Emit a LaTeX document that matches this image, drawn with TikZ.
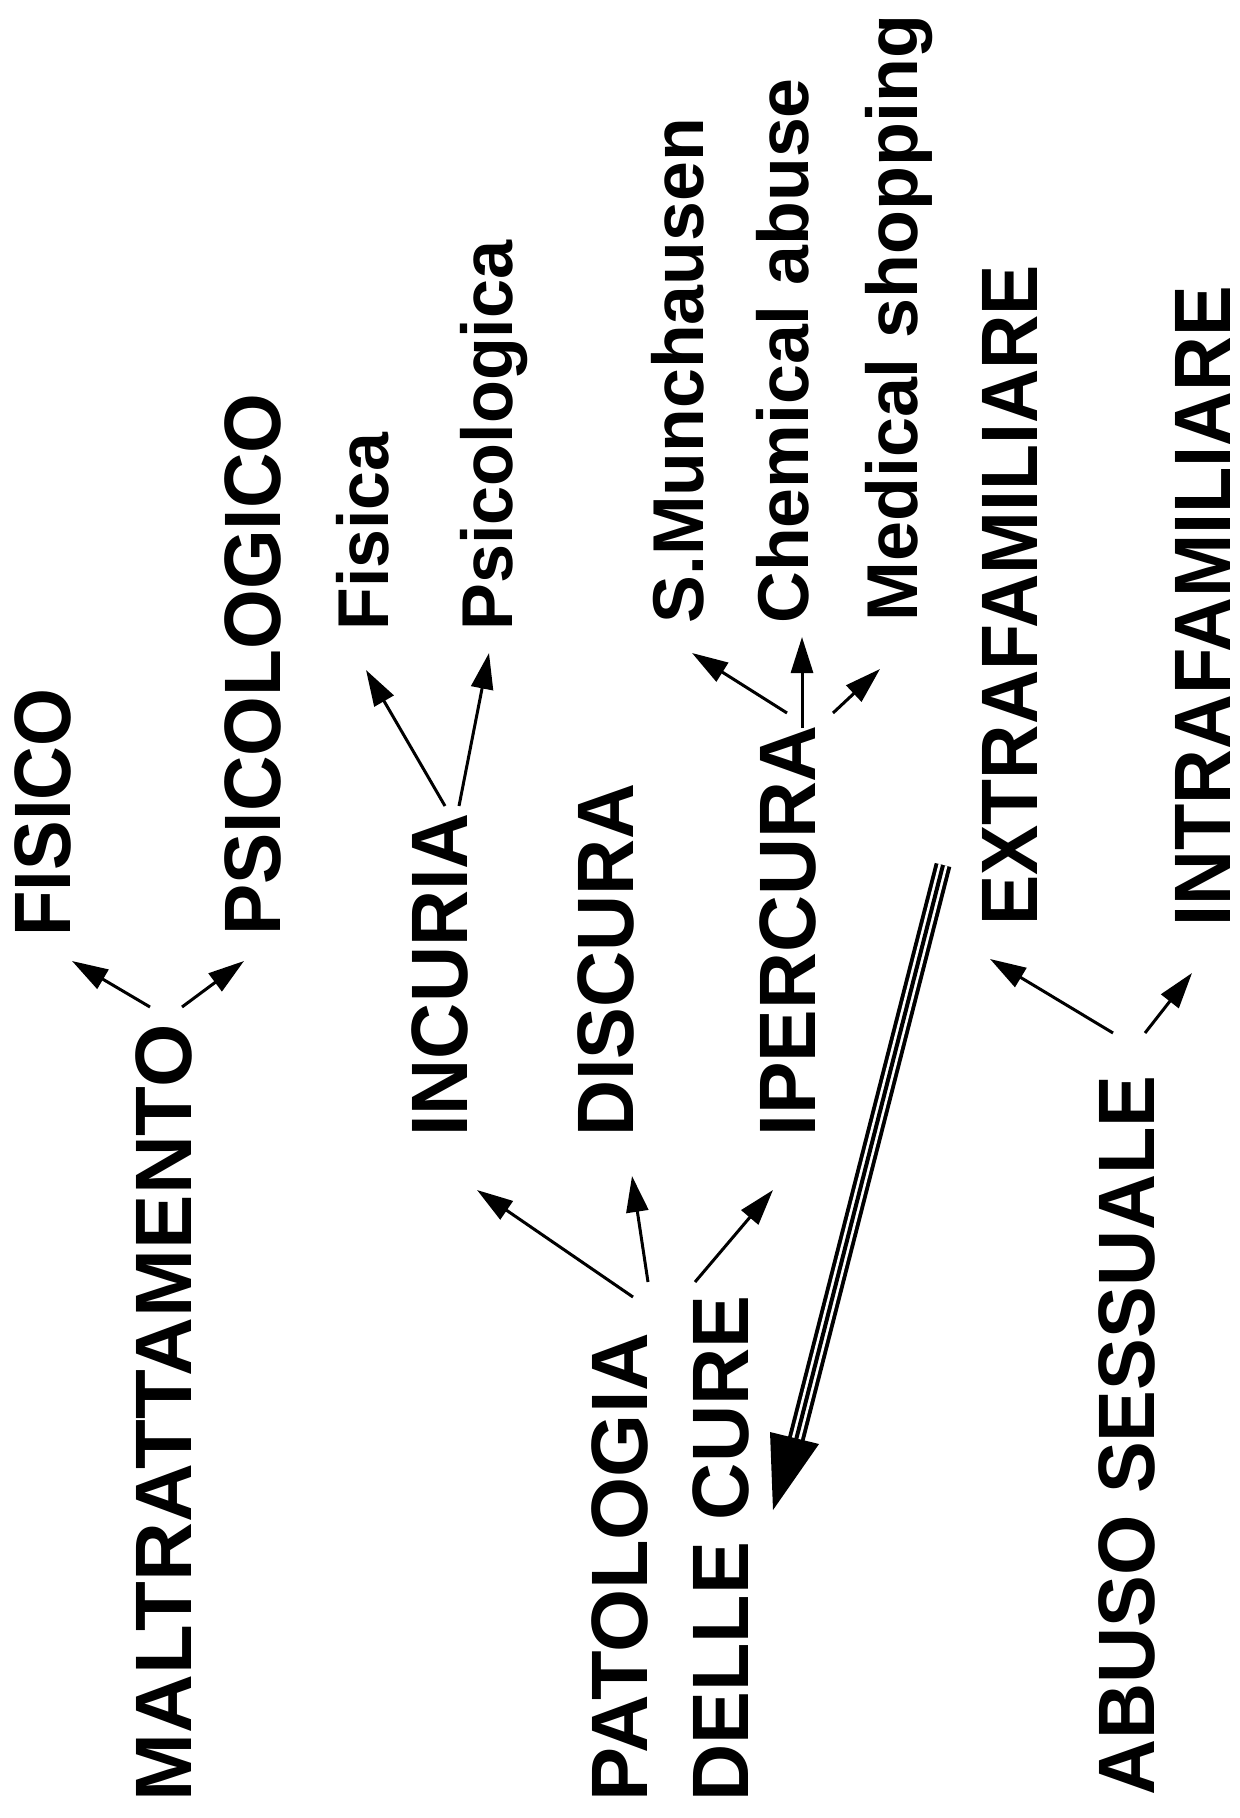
\documentclass[tikz,border=0pt]{standalone}
\usepackage{graphicx}
\usepackage{fontspec}
\setmainfont{Liberation Sans}
\usetikzlibrary{arrows.meta,calc}
\newcommand\hstretch[2]{\scalebox{#1}[1]{#2}}
\tikzset{
  big/.style={font=\bfseries\fontsize{40}{48}\selectfont, inner sep=0pt, anchor=base west, rotate=90},
  small/.style={font=\bfseries\fontsize{36}{43}\selectfont, inner sep=0pt, anchor=base west, rotate=90},
  arr/.style={line width=1.5pt, -{Triangle[length=18pt,width=11pt]}},
}
\begin{document}
\begin{tikzpicture}[x=0.5pt,y=-0.5pt]
\useasboundingbox[fill=white] (0,0) rectangle (1240,1818);
% labels
\node[big] (malt) at (191,1802) {\hstretch{1.019}{MALTRATTAMENTO}};
\node[big] (fisico) at (70,937) {\hstretch{0.93}{FISICO}};
\node[big] (psico) at (280,936) {\hstretch{0.96}{PSICOLOGICO}};
\node[small] (fisica) at (388,631) {\hstretch{0.97}{Fisica}};
\node[small] (psica) at (512,631) {\hstretch{0.975}{Psicologica}};
\node[big] (incuria) at (467,1137) {\hstretch{0.97}{INCURIA}};
\node[big] (discura) at (633,1137) {\hstretch{0.97}{DISCURA}};
\node[big] (ipercura) at (815,1137) {\hstretch{0.985}{IPERCURA}};
\node[small] (munch) at (703,624) {\hstretch{0.995}{S.Munchausen}};
\node[small] (chem) at (808,624) {\hstretch{0.995}{Chemical abuse}};
\node[small] (med) at (917,622) {\hstretch{0.998}{Medical shopping}};
\node[big] (pat) at (647,1802) {\hstretch{1.014}{PATOLOGIA}};
\node[big] (delle) at (748,1802) {\hstretch{0.99}{DELLE CURE}};
\node[big] (extra) at (1037,926) {\hstretch{0.941}{EXTRAFAMILIARE}};
\node[big, text depth=0pt] (intra) at (1230,927) {\hstretch{0.948}{INTRAFAMILIARE}};
\node[big] (abuso) at (1154,1796) {\hstretch{0.97}{ABUSO SESSUALE}};
% connector end points
\coordinate (m1) at (150,1007); \coordinate (m1t) at (72,961);
\coordinate (m2) at (182,1007); \coordinate (m2t) at (244,961);
\coordinate (i1) at (445,806);  \coordinate (i1t) at (366,670);
\coordinate (i2) at (459,806);  \coordinate (i2t) at (489,653);
\coordinate (p1) at (787,713);  \coordinate (p1t) at (692,653);
\coordinate (p2) at (802,728);  \coordinate (p2t) at (802,637);
\coordinate (p3) at (833,713);  \coordinate (p3t) at (880,669);
\coordinate (c1) at (633,1297); \coordinate (c1t) at (477,1190);
\coordinate (c2) at (648,1282); \coordinate (c2t) at (632,1176);
\coordinate (c3) at (695,1282); \coordinate (c3t) at (773,1190);
\coordinate (a1) at (1113,1033); \coordinate (a1t) at (990,959);
\coordinate (a2) at (1145,1033); \coordinate (a2t) at (1192,973);
\coordinate (tri1) at (943,865); \coordinate (trib) at (796,1440);
\coordinate (tritip) at (773,1510);
\coordinate (tril) at (770,1432); \coordinate (trir) at (819,1444);
% arrows
\draw[arr] (m1) -- (m1t);
\draw[arr] (m2) -- (m2t);
\draw[arr] (i1) -- (i1t);
\draw[arr] (i2) -- (i2t);
\draw[arr] (p1) -- (p1t);
\draw[arr] (p2) -- (p2t);
\draw[arr] (p3) -- (p3t);
\draw[arr] (c1) -- (c1t);
\draw[arr] (c2) -- (c2t);
\draw[arr] (c3) -- (c3t);
\draw[arr] (a1) -- (a1t);
\draw[arr] (a2) -- (a2t);
% triple-line arrow
\draw[line width=8.5pt] (tri1) -- (trib);
\draw[line width=4.6pt, white] (tri1) -- (trib);
\draw[line width=2pt] (tri1) -- (trib);
\fill (tril) -- (trir) -- (tritip) -- cycle;
\end{tikzpicture}
\end{document}
